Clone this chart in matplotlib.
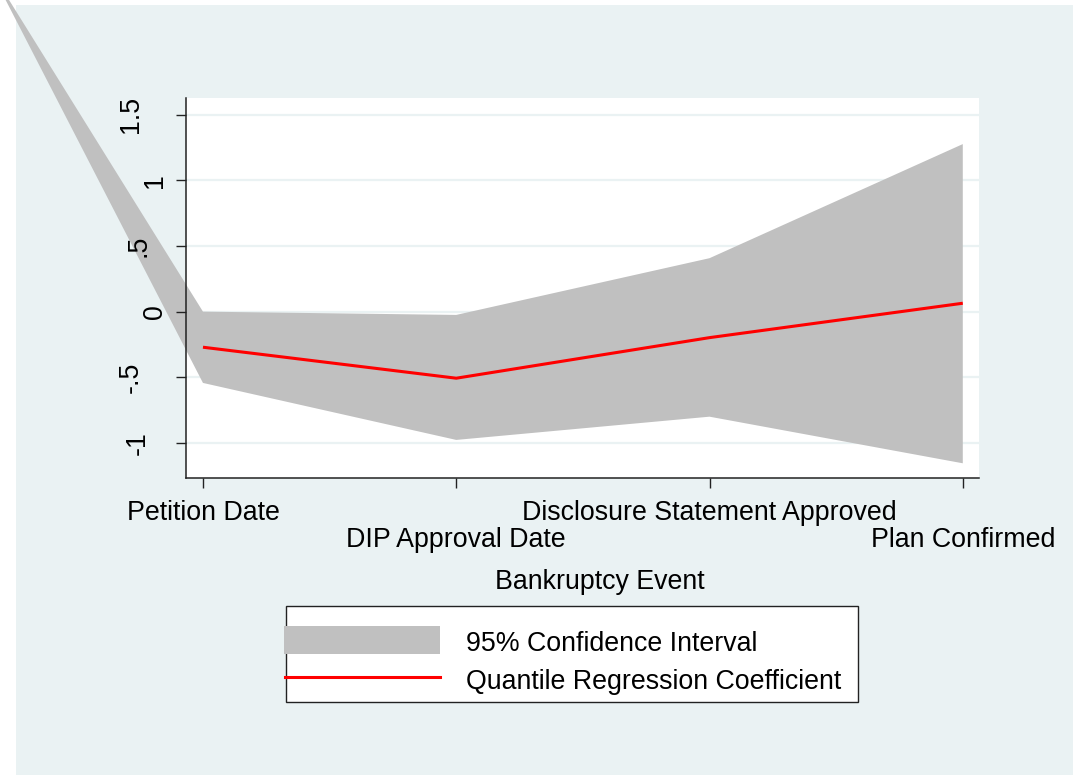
import numpy as np
import matplotlib
matplotlib.use("Agg")
import matplotlib.pyplot as plt
from matplotlib.patches import Rectangle
from matplotlib.lines import Line2D
from matplotlib.transforms import blended_transform_factory

plt.rcParams["font.family"] = ["Liberation Sans", "DejaVu Sans"]

# Event index 0 is the pre-petition point (no coefficient, only the band)
event_pos = [0, 1, 2, 3, 4]
event_labels = ["", "Petition Date", "DIP Approval Date",
                "Disclosure Statement Approved", "Plan Confirmed"]
coef = [np.nan, -0.271, -0.507, -0.198, 0.064]
ci_upper = [3.10, 0.000, -0.025, 0.407, 1.276]
ci_lower = [3.20, -0.543, -0.977, -0.800, -1.155]
y_ticks = [-1, -0.5, 0, 0.5, 1, 1.5]
y_tick_labels = ["-1", "-.5", "0", ".5", "1", "1.5"]

W, H = 1078, 782
BG = "#EAF2F3"
BAND = "#C0C0C0"
AXC = "#222222"
FS = 19.3

fig = plt.figure(figsize=(W / 100, H / 100), dpi=100, facecolor="white")


def fx(x):
    return x / W


def fy(y):
    return 1 - y / H


# graph region
fig.add_artist(Rectangle((fx(16), fy(775)), fx(1073) - fx(16), fy(5) - fy(775),
                         transform=fig.transFigure, facecolor=BG,
                         edgecolor="none", zorder=-10))

ax = fig.add_axes([fx(186), fy(478), fx(979) - fx(186), fy(98) - fy(478)])
ax.set_facecolor("white")
ax.set_xlim(0.933, 4.064)
ax.set_ylim(-1.267, 1.627)

# horizontal grid lines beneath the band
for yv in y_ticks:
    ax.axhline(yv, color=BG, lw=1.6, zorder=0.5)

band = ax.fill_between(event_pos, ci_lower, ci_upper, facecolor=BAND,
                       edgecolor="none", linewidth=0, zorder=1)
band.set_clip_on(False)
ax.plot(event_pos, coef, color="red", lw=2.2, zorder=2, solid_capstyle="butt")

for s in ["top", "right"]:
    ax.spines[s].set_visible(False)
for s in ["left", "bottom"]:
    ax.spines[s].set_color(AXC)
    ax.spines[s].set_linewidth(1.1)
ax.set_yticks(y_ticks)
ax.set_xticks(event_pos[1:])
ax.tick_params(axis="both", direction="out", length=7.2, width=1.0,
               color=AXC, labelleft=False, labelbottom=False)

# vertical y labels; shorter strings sit closer to the axis
ylab_tr = blended_transform_factory(fig.transFigure, ax.transData)
label_center_px = {1: 155, 2: 138, 3: 130.5}
for yv, lab in zip(y_ticks, y_tick_labels):
    xc = label_center_px[len(lab)]
    ax.text(fx(xc), yv, lab, transform=ylab_tr, fontsize=FS, rotation=90,
            ha="center", va="center", clip_on=False, zorder=5)

# alternating x labels
lab_tr = blended_transform_factory(ax.transData, fig.transFigure)
for i, (xp, lab) in enumerate(zip(event_pos[1:], event_labels[1:])):
    yb = 520 if i % 2 == 0 else 547
    ax.text(xp, fy(yb), lab, transform=lab_tr, fontsize=FS, ha="center",
            va="baseline", clip_on=False)

fig.text(fx(600), fy(589), "Bankruptcy Event", fontsize=FS, ha="center",
         va="baseline")

# legend
fig.add_artist(Rectangle((fx(286), fy(702)), fx(858) - fx(286), fy(606) - fy(702),
                         transform=fig.transFigure, facecolor="white",
                         edgecolor=AXC, lw=1.0, zorder=3))
fig.add_artist(Rectangle((fx(284), fy(654)), fx(440) - fx(284), fy(626) - fy(654),
                         transform=fig.transFigure, facecolor=BAND,
                         edgecolor="none", zorder=4))
fig.add_artist(Line2D([fx(285), fx(440)], [fy(677), fy(677)],
                      transform=fig.transFigure, color="red", lw=2.2, zorder=4))
fig.text(fx(466), fy(651), "95% Confidence Interval", fontsize=FS,
         ha="left", va="baseline", zorder=5)
fig.text(fx(466), fy(689), "Quantile Regression Coefficient", fontsize=FS,
         ha="left", va="baseline", zorder=5)

fig.savefig("out.png", dpi=100, facecolor="white")
